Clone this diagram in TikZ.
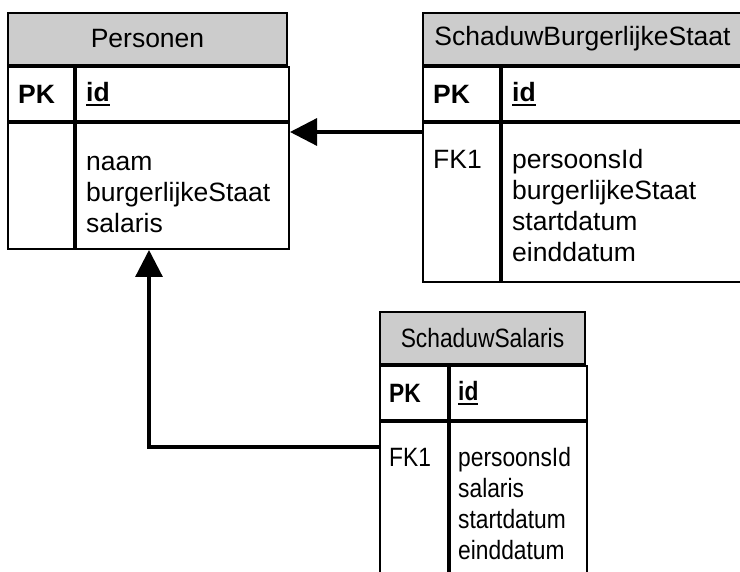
\documentclass[tikz,border=0pt]{standalone}
\usepackage{fontspec}
\setmainfont{Liberation Sans}
\newfontfamily\smalfont[FakeStretch=0.86]{Liberation Sans}
\usetikzlibrary{arrows.meta, calc}

\definecolor{kopgrijs}{RGB}{204,204,204}
\newcommand{\tabelfont}{\fontsize{26.5}{31}\selectfont}
\newcommand{\pkveld}[1]{\setbox0\hbox{#1}\rlap{\rule[-4.5pt]{\wd0}{1.8pt}}\box0}

\begin{document}
\begin{tikzpicture}[x=1pt, y=-1pt,
    cel/.style={draw, line width=2pt, anchor=north west, inner sep=0pt},
    kop/.style={cel, fill=kopgrijs, font=\tabelfont},
    sleutel/.style={anchor=west, inner sep=0pt, font=\tabelfont\bfseries},
    lijst/.style={anchor=north west, inner sep=0pt, font=\tabelfont},
    smal/.style={font=\smalfont\tabelfont},
    smalvet/.style={font=\smalfont\tabelfont\bfseries},
    relatie/.style={line width=3.2pt, -{Triangle[length=27pt, width=27pt]}}]

    \useasboundingbox (0,0) rectangle (740,572);
    \clip (0,0) rectangle (740,572);

%%%%%%%%%%%%%%%%%%%%%%%%%%%%%%%%%%%%%%%%%%
% Personen
    \node[kop, minimum width=279, minimum height=52] (perKop) at (7,12) {Personen};
    \node[cel, minimum width=66, minimum height=54] (perPK) at (perKop.south west) {};
    \node[cel, minimum width=213, minimum height=54] (perId) at (perPK.north east) {};
    \node[cel, minimum width=66, minimum height=126] (perFK) at (perPK.south west) {};
    \node[cel, minimum width=213, minimum height=126] (perVelden) at (perFK.north east) {};
    \node[sleutel] (perPKtxt) at ([xshift=11]perPK.west) {PK};
    \node[sleutel] (perIdtxt) at ([xshift=11]perId.west) {\pkveld{id}};
    \node[lijst] (perVeldtxt) at ([xshift=11, yshift=-27]perVelden.north west) {
        \begin{tabular}{@{}l@{}}
            naam\\
            burgerlijkeStaat\\
            salaris
        \end{tabular}
    };

%%%%%%%%%%%%%%%%%%%%%%%%%%%%%%%%%%%%%%%%%%
% SchaduwBurgerlijkeStaat
    \node[kop, minimum width=319, minimum height=52] (sbsKop) at (422,12) {SchaduwBurgerlijkeStaat};
    \node[cel, minimum width=77, minimum height=54] (sbsPK) at (sbsKop.south west) {};
    \node[cel, minimum width=242, minimum height=54] (sbsId) at (sbsPK.north east) {};
    \node[cel, minimum width=77, minimum height=159] (sbsFK) at (sbsPK.south west) {};
    \node[cel, minimum width=242, minimum height=159] (sbsVelden) at (sbsFK.north east) {};
    \node[sleutel] (sbsPKtxt) at ([xshift=11]sbsPK.west) {PK};
    \node[sleutel] (sbsIdtxt) at ([xshift=11]sbsId.west) {\pkveld{id}};
    \node[lijst] (sbsFKtxt) at ([xshift=11, yshift=-25]sbsFK.north west) {
        \begin{tabular}{@{}l@{}}FK1\end{tabular}
    };
    \node[lijst] (sbsVeldtxt) at ([xshift=11, yshift=-25]sbsVelden.north west) {
        \begin{tabular}{@{}l@{}}
            persoonsId\\
            burgerlijkeStaat\\
            startdatum\\
            einddatum
        \end{tabular}
    };

%%%%%%%%%%%%%%%%%%%%%%%%%%%%%%%%%%%%%%%%%%
% SchaduwSalaris
    \node[kop, smal, minimum width=205, minimum height=52] (ssKop) at (379,311) {SchaduwSalaris};
    \node[cel, minimum width=68, minimum height=54] (ssPK) at (ssKop.south west) {};
    \node[cel, minimum width=137, minimum height=54] (ssId) at (ssPK.north east) {};
    \node[cel, minimum width=68, minimum height=170] (ssFK) at (ssPK.south west) {};
    \node[cel, minimum width=137, minimum height=170] (ssVelden) at (ssFK.north east) {};
    \node[sleutel, smalvet] (ssPKtxt) at ([xshift=10]ssPK.west) {PK};
    \node[sleutel, smalvet] (ssIdtxt) at ([xshift=9]ssId.west) {\pkveld{id}};
    \node[lijst, smal] (ssFKtxt) at ([xshift=10, yshift=-24]ssFK.north west) {
        \begin{tabular}{@{}l@{}}FK1\end{tabular}
    };
    \node[lijst, smal] (ssVeldtxt) at ([xshift=9, yshift=-24]ssVelden.north west) {
        \begin{tabular}{@{}l@{}}
            persoonsId\\
            salaris\\
            startdatum\\
            einddatum
        \end{tabular}
    };

%%%%%%%%%%%%%%%%%%%%%%%%%%%%%%%%%%%%%%%%%%
% relaties
    \coordinate (sbsUit) at ([yshift=-10]sbsFK.north west);
    \coordinate (ssUit) at ([yshift=-26]ssFK.north west);
    \coordinate (perIn) at ([xshift=74]perVelden.south west);
    \draw[relatie] (sbsUit) -- (sbsUit -| perVelden.east);
    \draw[relatie] (ssUit) -| (perIn);
\end{tikzpicture}
\end{document}
